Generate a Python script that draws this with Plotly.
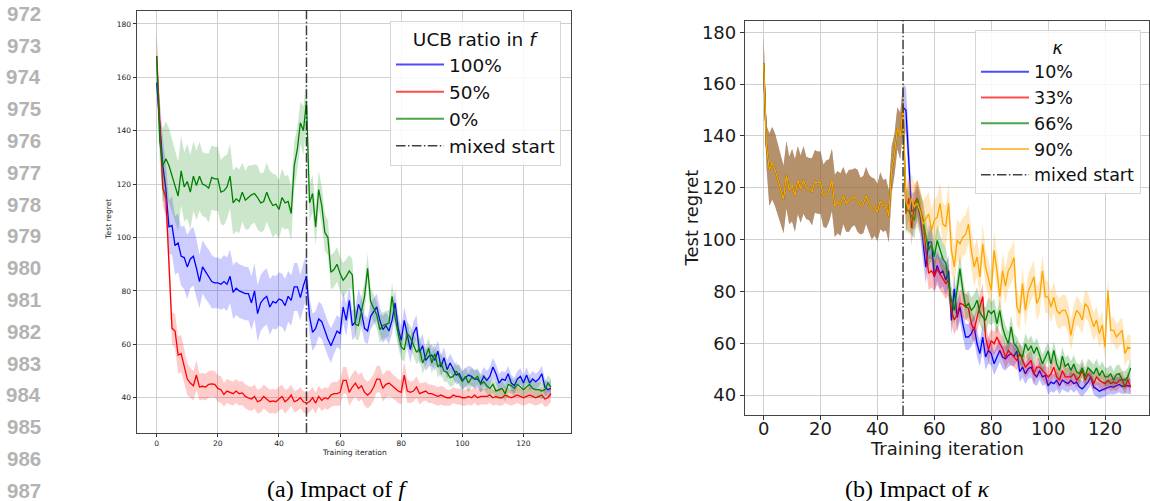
import plotly.graph_objects as go

# ---------------- data ----------------
ITERATIONS = list(range(130))
MIXED_START = 49
X_TICKS = [0, 20, 40, 60, 80, 100, 120]
Y_TICKS = [40, 60, 80, 100, 120, 140, 160, 180]
LINE_NUMBERS = [972, 973, 974, 975, 976, 977, 978, 979, 980, 981, 982, 983, 984, 985, 986, 987]

A_LABELS = ["100%", "50%", "0%"]
B_LABELS = ["10%", "33%", "66%", "90%"]
MIXED_LABEL = "mixed start"

# shared curve for iterations 0..49 (the "0%" run in (a), common start in (b))
PRE_MEAN = [168, 136, 127, 129.5, 127, 123, 119, 115.5, 125, 119,
            121, 117, 123, 119.5, 123, 120, 119.5, 118.5, 122.5, 122,
            122, 117, 117.5, 119, 123, 113, 114.5, 113.5, 117, 114,
            115, 116, 116.5, 115, 113, 113.5, 117, 114, 112, 112.5,
            110.5, 115, 113, 113.5, 109, 127, 133, 143, 140, 151]
PRE_STD = [10, 8, 14, 14, 14, 14, 13, 13, 13, 13,
           14, 14, 13, 13, 13, 12, 12, 13, 12, 12,
           12, 12, 13, 12, 12, 12, 12, 12, 11, 11,
           12, 11, 11, 12, 11, 11, 11, 11, 12, 11,
           11, 11, 10, 10, 10, 9, 8, 8, 9, 9]

# (a) UCB ratio 100%
A100_MEAN = [158, 143, 127, 118, 104, 104.5, 97, 98, 93, 92.5,
             89, 92, 93, 88.5, 83.5, 89, 87, 85.5, 83.5, 83,
             83, 82.5, 83.5, 82.5, 85.5, 79.5, 81, 80, 79.5, 79,
             79, 75.5, 80, 71.5, 75.5, 77, 78, 74, 76, 75.5,
             77, 76.5, 74.5, 78, 76.5, 81.5, 81.5, 77.5, 82, 85.5,
             70.5, 64.5, 66, 69.5, 68.5, 65, 62, 59.5, 62.5, 65,
             64, 74, 69, 76.5, 67, 68.5, 75, 72, 66, 65,
             70.5, 72.5, 74, 69, 65.5, 67, 65, 69, 75.5, 66,
             61.5, 69, 63, 58, 64, 66.5, 57, 59.5, 54, 55.5,
             56, 54, 57.5, 51.5, 55, 50.5, 53, 50.5, 48.5, 49,
             46.5, 47.5, 48.5, 48, 47, 47, 45.5, 48, 46.5, 48,
             51.5, 49, 45.5, 47, 46.5, 49, 45.5, 44.5, 47, 48,
             45.5, 48.5, 45.5, 47, 46, 47, 49, 44, 43, 43.5]
A100_STD = [4, 9, 10, 10, 10, 11, 11, 11, 11, 12,
            12, 11, 11, 11, 10, 10, 10, 10, 10, 9.5,
            9.5, 9.5, 10, 10, 10, 10, 10, 10, 10, 10,
            10, 10, 10.5, 10.5, 10.5, 10.5, 10.5, 10.5, 10, 10,
            10, 10, 10, 9.5, 9.5, 9, 9, 8.5, 8.5, 8,
            7, 7, 6.5, 6.5, 6.5, 6.5, 6.5, 6.5, 6, 6,
            6, 6, 6, 5.5, 5.5, 5.5, 5.5, 5.5, 5, 5,
            5, 5, 5, 5, 5, 5, 5, 5, 5, 5,
            5, 5, 5, 5, 4.5, 4.5, 4.5, 4.5, 4, 4,
            4, 4, 4, 4, 4, 3.5, 3.5, 3.5, 3.5, 3.5,
            3.5, 3.5, 3.5, 3.5, 3.5, 3.5, 3.5, 3.5, 3.5, 3.5,
            3.5, 3.5, 3.5, 3, 3, 3, 3, 3, 3, 3,
            3, 3, 3, 3, 3, 3, 3, 3, 3, 3]

# (a) UCB ratio 50%
A50_MEAN = [168, 142, 118.5, 115, 90, 66, 65, 56, 56.5, 52,
            47, 45.5, 44.5, 48.5, 44, 44.3, 44, 45, 45.2, 45,
            43.5, 43, 41.2, 42.5, 42, 41.5, 42.5, 41.5, 41.8, 40.5,
            39.9, 39.5, 40.5, 38.5, 39, 40.5, 39.5, 38.5, 38.8, 38.5,
            39.5, 40.5, 38.5, 39.5, 41, 38.5, 39, 40, 38.5, 38,
            38.5, 40, 38, 40.5, 39, 40, 39.5, 41, 41.5, 41.5,
            42, 46.5, 46.5, 42, 44, 45.5, 43.5, 44.5, 42, 41,
            42, 44, 47, 47, 43.5, 45, 45.5, 44.5, 43.5, 42.5,
            42, 48.5, 42.5, 42, 42.5, 44, 41.5, 42, 42.5, 41.5,
            41.5, 41, 40.5, 41, 40.5, 40, 40, 41, 40.5, 40.5,
            40, 40, 40.5, 40, 41, 40, 40.5, 40.5, 40.5, 41,
            40, 40.5, 40, 40, 41, 40.5, 40, 40.5, 41, 40.5,
            40, 40.5, 41, 40.5, 40, 40.5, 41, 39.5, 40, 41.5]
A50_STD = [8, 8, 7, 7, 7, 6, 6.5, 7, 7, 6.5,
           6, 5.5, 5.5, 5.5, 5, 5, 5, 5, 5, 5,
           5, 5, 4.5, 4.5, 4.5, 4.5, 4.5, 4.5, 4.5, 4.5,
           4.5, 4.5, 4.5, 4.5, 4.5, 4.5, 4.5, 4.5, 4.5, 4.5,
           4.5, 4.5, 4.5, 4, 4, 4, 4, 4, 4, 4,
           4, 4, 4, 4, 4, 4, 4, 4.5, 4.5, 4.5,
           5, 5, 5, 5, 5, 5, 5, 5, 5, 5,
           5, 5, 5, 5, 5, 5, 5, 4.5, 4.5, 4.5,
           4.5, 5, 4.5, 4, 4, 4, 4, 3.5, 3.5, 3.5,
           3.5, 3.5, 3.5, 3.5, 3.5, 3, 3, 3, 3, 3,
           3, 3, 3, 3, 3, 3, 3, 3, 3, 3,
           3, 3, 3, 3, 3, 3, 3, 3, 3, 3,
           3, 3, 3, 3, 3, 3, 3, 3, 3, 3]

# (a) UCB ratio 0% after mixed start (iterations 50..129)
A0_POST_MEAN = [113, 116.5, 104, 118, 112, 102, 100, 87, 88, 90,
                86.5, 84, 85.5, 87.5, 86, 67.5, 67, 72, 78, 88.5,
                76, 73.5, 71, 65.5, 67, 67.5, 68, 78, 70, 64,
                59, 58, 64, 62.5, 60, 57, 58.5, 53, 55.5, 58.5,
                53, 56.5, 51.5, 53, 50, 49.5, 47.5, 48, 50, 48,
                46, 48, 45.5, 47.5, 47, 48, 45, 46, 44.5, 43.5,
                45, 42.5, 43, 43.5, 41.5, 45, 44.5, 43.5, 45, 44,
                43, 44, 45, 43.5, 43, 43, 42.5, 43, 45.5, 44]
A0_POST_STD = [7, 7, 7, 7, 7, 7, 6.5, 6.5, 6.5, 6.5,
               6.5, 6.5, 6.5, 6, 6, 5.5, 5.5, 5.5, 5.5, 5.5,
               5, 5, 5, 5, 5, 5, 5, 5, 5, 5,
               4.5, 4.5, 4.5, 4.5, 4.5, 4.5, 4.5, 4, 4, 4,
               4, 4, 4, 4, 4, 3.5, 3.5, 3.5, 3.5, 3.5,
               3.5, 3.5, 3.5, 3.5, 3, 3, 3, 3, 3, 3,
               3, 3, 3, 3, 3, 3, 3, 3, 3, 3,
               3, 3, 3, 3, 3, 3, 3, 3, 3, 3]

# (b) kappa runs after mixed start (iterations 50..129)
K10_POST_MEAN = [150, 132, 111, 111.3, 114, 109, 99, 89.4, 99, 99,
                 85.6, 90, 86.8, 88, 84.3, 88, 68.8, 81, 70, 74,
                 67.5, 62.4, 62.4, 63.7, 66.3, 59.8, 56, 62.4, 54.7, 57.2,
                 56, 52.1, 54.7, 57.2, 54.7, 54, 55.3, 56, 55, 57,
                 49, 50.8, 48.2, 50.2, 50.8, 48.2, 47, 49.5, 47, 47.6,
                 43.5, 45, 44.4, 45.7, 43.7, 45.7, 45, 44.4, 45.7, 44.4,
                 45, 43.1, 42.4, 43.7, 45, 47, 43.1, 42.4, 41.5, 42,
                 42.4, 43.1, 43.3, 43.1, 43.6, 44.1, 43.3, 43.7, 43.6, 43.3]
K10_POST_STD = [9, 9, 7, 7, 7, 7, 7, 6.5, 6.5, 6.5,
                6, 6, 6, 6, 6, 6, 5.5, 5.5, 5.5, 5.5,
                5, 5, 5, 5, 5, 5, 5, 5, 5, 5,
                4.5, 4.5, 4.5, 4.5, 4.5, 4.5, 4.5, 4.5, 4, 4,
                4, 4, 4, 4, 4, 4, 3.5, 3.5, 3.5, 3.5,
                3.5, 3.5, 3.5, 3.5, 3.5, 3.5, 3.5, 3.5, 3.5, 3.5,
                3, 3, 3, 3, 3, 3, 3, 3, 3, 3,
                3, 3, 3, 3, 3, 3, 3, 3, 3, 3]
K33_POST_MEAN = [110, 116, 104.5, 114, 116, 112, 107.5, 96, 87, 88,
                 86, 88.5, 86.5, 85, 83, 84.5, 72.5, 69, 71, 75.5,
                 75, 74, 73.5, 67.5, 65, 70, 74, 78, 62.4, 57.5,
                 61, 59.8, 62.4, 59.8, 58, 54.7, 57.2, 56, 54.7, 53.4,
                 56, 53, 50.8, 52, 53.4, 48.2, 50.8, 50.8, 49.5, 48,
                 47, 48.2, 50.8, 47, 45.7, 49.5, 47, 47, 47, 48.2,
                 45.7, 47, 49.5, 45.7, 48.2, 47, 44.4, 47, 45.7, 45,
                 44.4, 45.7, 44.4, 45, 44.4, 45.7, 46, 43.1, 46, 43]
K33_POST_STD = [8, 8, 7, 7, 7, 7, 7, 6.5, 6.5, 6.5,
                6, 6, 6, 6, 6, 6, 5.5, 5.5, 5.5, 5.5,
                5, 5, 5, 5, 5, 5, 5, 5, 5, 5,
                4.5, 4.5, 4.5, 4.5, 4.5, 4.5, 4.5, 4.5, 4, 4,
                4, 4, 4, 4, 4, 4, 3.5, 3.5, 3.5, 3.5,
                3.5, 3.5, 3.5, 3.5, 3.5, 3.5, 3.5, 3.5, 3.5, 3.5,
                3, 3, 3, 3, 3, 3, 3, 3, 3, 3,
                3, 3, 3, 3, 3, 3, 3, 3, 3, 3]
K66_POST_MEAN = [112, 111, 109, 107.4, 116, 111, 107.4, 101, 95.9, 98.4,
                 93.3, 99.7, 95.9, 92.5, 91, 83, 76.6, 72.7, 80, 88.8,
                 80.4, 74, 75.3, 72.7, 74, 76.6, 72, 70.1, 68.8, 72.7,
                 71.4, 72.7, 67.5, 72.7, 66, 62.4, 59.8, 66.3, 59.8, 58.5,
                 56, 54.7, 59.8, 57.2, 59, 56, 58.5, 55, 52.1, 54.5,
                 57, 52, 57.2, 52, 49.5, 55, 51, 52.1, 49.5, 52,
                 49, 48.2, 50.5, 47, 50.5, 49.5, 48.2, 50.5, 47.5, 49.5,
                 47, 47, 48.2, 45.7, 48, 48.2, 46, 45.7, 47, 50.5]
K66_POST_STD = [8, 8, 7, 7, 7, 7, 7, 6.5, 6.5, 6.5,
                6, 6, 6, 6, 6, 6, 5.5, 5.5, 5.5, 5.5,
                5, 5, 5, 5, 5, 5, 5, 5, 5, 5,
                4.5, 4.5, 4.5, 4.5, 4.5, 4.5, 4.5, 4.5, 4, 4,
                4, 4, 4, 4, 4, 4, 3.5, 3.5, 3.5, 3.5,
                3.5, 3.5, 3.5, 3.5, 3.5, 3.5, 3.5, 3.5, 3.5, 3.5,
                3.5, 3.5, 3.5, 3.5, 3.5, 3.5, 3.5, 3.5, 3.5, 3.5,
                3.5, 3.5, 3.5, 3.5, 3.5, 3.5, 3.5, 3.5, 3.5, 3.5]
K90_POST_MEAN = [115, 111.5, 116, 112.5, 114, 111, 106, 108, 110, 103.5,
                 107.5, 108.7, 114, 106, 105, 114, 96, 89.5, 99.7, 98.4,
                 101, 102, 106, 96, 89.4, 93.3, 85.6, 98.4, 89.4, 85,
                 80.4, 95.9, 88, 78, 88, 82, 88, 90, 93, 74,
                 71.5, 83, 72.7, 80, 83, 85.6, 75.3, 77.8, 88, 78,
                 77.8, 74, 77.8, 72.7, 71.4, 72.7, 72.7, 70, 63, 69,
                 72.7, 71.4, 69, 75.3, 74, 70, 66.3, 69, 63.7, 67,
                 58.5, 80.4, 65, 65, 62.4, 63.7, 65, 56, 58.5, 58]
K90_POST_STD = [10, 10, 9, 9, 9, 9, 9, 8.5, 8.5, 8.5,
                8, 8, 8, 8, 8, 8, 8, 8, 8, 8,
                7.5, 7.5, 7.5, 7.5, 7.5, 7.5, 7.5, 7.5, 7, 7,
                7, 7, 7, 7, 7, 7, 7, 7, 7, 7,
                6.5, 6.5, 6.5, 6.5, 6.5, 6.5, 6.5, 6.5, 6.5, 6.5,
                6, 6, 6, 6, 6, 6, 6, 6, 6, 6,
                5.5, 5.5, 5.5, 5.5, 5.5, 5.5, 5.5, 5.5, 5.5, 5.5,
                5, 5, 5, 5, 5, 5, 5, 5, 5, 5]

# ---------------- styling ----------------
W, H = 1150, 501
BLUE, RED, GREEN, ORANGE = "0,0,255", "255,0,0", "0,128,0", "255,165,0"
TXT = "DejaVu Sans"

A_SERIES = [
    (A_LABELS[0], A100_MEAN, A100_STD, BLUE),
    (A_LABELS[1], A50_MEAN, A50_STD, RED),
    (A_LABELS[2], PRE_MEAN + A0_POST_MEAN, PRE_STD + A0_POST_STD, GREEN),
]
B_SERIES = [
    (B_LABELS[0], PRE_MEAN + K10_POST_MEAN, PRE_STD + K10_POST_STD, BLUE),
    (B_LABELS[1], PRE_MEAN + K33_POST_MEAN, PRE_STD + K33_POST_STD, RED),
    (B_LABELS[2], PRE_MEAN + K66_POST_MEAN, PRE_STD + K66_POST_STD, GREEN),
    (B_LABELS[3], PRE_MEAN + K90_POST_MEAN, PRE_STD + K90_POST_STD, ORANGE),
]

fig = go.Figure()


def add_series(mean, std, rgb, xa, ya, alpha, lw):
    x = ITERATIONS
    upper = [m + s for m, s in zip(mean, std)]
    lower = [m - s for m, s in zip(mean, std)]
    fig.add_trace(go.Scatter(
        x=x + x[::-1], y=upper + lower[::-1], fill="toself",
        fillcolor=f"rgba({rgb},{alpha})", line=dict(width=0), mode="lines",
        hoverinfo="skip", showlegend=False, xaxis=xa, yaxis=ya))
    fig.add_trace(go.Scatter(
        x=x, y=mean, mode="lines", line=dict(color=f"rgb({rgb})", width=lw),
        showlegend=False, xaxis=xa, yaxis=ya))


for _, m, s, c in A_SERIES:
    add_series(m, s, c, "x", "y", 0.2, 1.3)
for _, m, s, c in B_SERIES:
    add_series(m, s, c, "x2", "y2", 0.25, 1.3)

DASHDOT = "9.6px,2.4px,1.5px,2.4px"

# legend entries
for i, (lab, _, _, c) in enumerate(A_SERIES):
    fig.add_trace(go.Scatter(x=[None], y=[None], mode="lines", name=lab,
                             line=dict(color=f"rgba({c},0.7)", width=2),
                             legend="legend", legendgroup=f"a{i}", xaxis="x", yaxis="y"))
fig.add_trace(go.Scatter(x=[None], y=[None], mode="lines", name=MIXED_LABEL,
                         line=dict(color="rgba(30,30,30,0.85)", width=1.5, dash=DASHDOT),
                         legend="legend", legendgroup="a9", xaxis="x", yaxis="y"))
for i, (lab, _, _, c) in enumerate(B_SERIES):
    fig.add_trace(go.Scatter(x=[None], y=[None], mode="lines", name=lab,
                             line=dict(color=f"rgba({c},0.7)", width=2),
                             legend="legend2", legendgroup=f"b{i}", xaxis="x2", yaxis="y2"))
fig.add_trace(go.Scatter(x=[None], y=[None], mode="lines", name=MIXED_LABEL,
                         line=dict(color="rgba(30,30,30,0.85)", width=1.5, dash=DASHDOT),
                         legend="legend2", legendgroup="b9", xaxis="x2", yaxis="y2"))

# mixed start vertical lines
for xr, yr in (("x", "y domain"), ("x2", "y2 domain")):
    fig.add_shape(type="line", xref=xr, yref=yr, x0=MIXED_START, x1=MIXED_START, y0=0, y1=1,
                  line=dict(color="rgba(30,30,30,0.85)", width=1.5, dash=DASHDOT), layer="above")


def px_x(p):
    return p / W


def px_y(p):
    return (H - p) / H


def axis(domain, rng, ticks, fsize, ticklen, anchor, standoff=0):
    return dict(domain=domain, range=rng, tickmode="array", tickvals=ticks,
                ticks="outside", ticklen=ticklen, tickwidth=0.9, tickcolor="#333",
                showgrid=True, gridcolor="#d0d0d0", gridwidth=0.9,
                showline=True, linecolor="#444", linewidth=0.9, mirror=True,
                zeroline=False, tickfont=dict(family=TXT, size=fsize, color="#1a1a1a"),
                ticklabelstandoff=standoff, anchor=anchor)


X_RANGE = [-6.45, 135.45]
LEGEND_COMMON = dict(xanchor="right", yanchor="top",
                     bgcolor="rgba(255,255,255,0.85)", bordercolor="#d6d6d6", borderwidth=1,
                     traceorder="grouped", itemwidth=48)
fig.update_layout(
    width=W, height=H, margin=dict(l=0, r=0, t=0, b=0),
    paper_bgcolor="white", plot_bgcolor="white",
    font=dict(family=TXT, color="#111"),
    xaxis=axis([px_x(137), px_x(570.7)], X_RANGE, X_TICKS, 7.5, 3.5, "y"),
    yaxis=axis([px_y(432.7), px_y(10.7)], [26.9, 184.98], Y_TICKS, 7.5, 3.5, "x"),
    xaxis2=axis([px_x(745.3), px_x(1149)], X_RANGE, X_TICKS, 18, 4.5, "y2", -7),
    yaxis2=axis([px_y(415), px_y(20.7)], [32.3, 184.5], Y_TICKS, 18, 4.5, "x2"),
    legend=dict(x=px_x(561), y=px_y(21),
                font=dict(family=TXT, size=18.5, color="#111"),
                title=dict(text="UCB ratio in <i>f</i>", side="top center",
                           font=dict(family=TXT, size=18.5, color="#111")),
                tracegroupgap=0, **LEGEND_COMMON),
    legend2=dict(x=px_x(1141), y=px_y(30),
                 font=dict(family=TXT, size=17.5, color="#111"),
                 title=dict(text="<i>κ</i>", side="top center",
                            font=dict(family=TXT, size=17.5, color="#111")),
                 tracegroupgap=0, **LEGEND_COMMON),
)

ann = []
# axis titles
ann.append(dict(text="Test regret", x=px_x(107.7), y=px_y(219), textangle=-90,
                font=dict(family=TXT, size=7.5, color="#1a1a1a")))
ann.append(dict(text="Training iteration", x=px_x(354), y=px_y(452.7),
                font=dict(family=TXT, size=7.5, color="#1a1a1a")))
ann.append(dict(text="Test regret", x=px_x(691.5), y=px_y(218), textangle=-90,
                font=dict(family=TXT, size=18, color="#1a1a1a")))
ann.append(dict(text="Training iteration", x=px_x(947), y=px_y(448),
                font=dict(family=TXT, size=18, color="#1a1a1a")))
# captions
ann.append(dict(text="(a) Impact of <i>f</i>", x=px_x(337), y=px_y(489),
                font=dict(family="Liberation Serif", size=24, color="#000")))
ann.append(dict(text="(b) Impact of <i>κ</i>", x=px_x(917.5), y=px_y(489),
                font=dict(family="Liberation Serif", size=24, color="#000")))
# manuscript line numbers
for i, n in enumerate(LINE_NUMBERS):
    ann.append(dict(text=f"<b>{n}</b>", x=px_x(43), y=px_y(13.3 + 31.8 * i), xanchor="right",
                    font=dict(family="Liberation Sans", size=20.5, color="#b3b3b3")))
for a in ann:
    a.setdefault("xanchor", "center")
    a.update(xref="paper", yref="paper", yanchor="middle", showarrow=False)
fig.update_layout(annotations=ann)

fig.write_html("out.html", config={"displayModeBar": False},
               post_script="document.body.style.margin='0';")
